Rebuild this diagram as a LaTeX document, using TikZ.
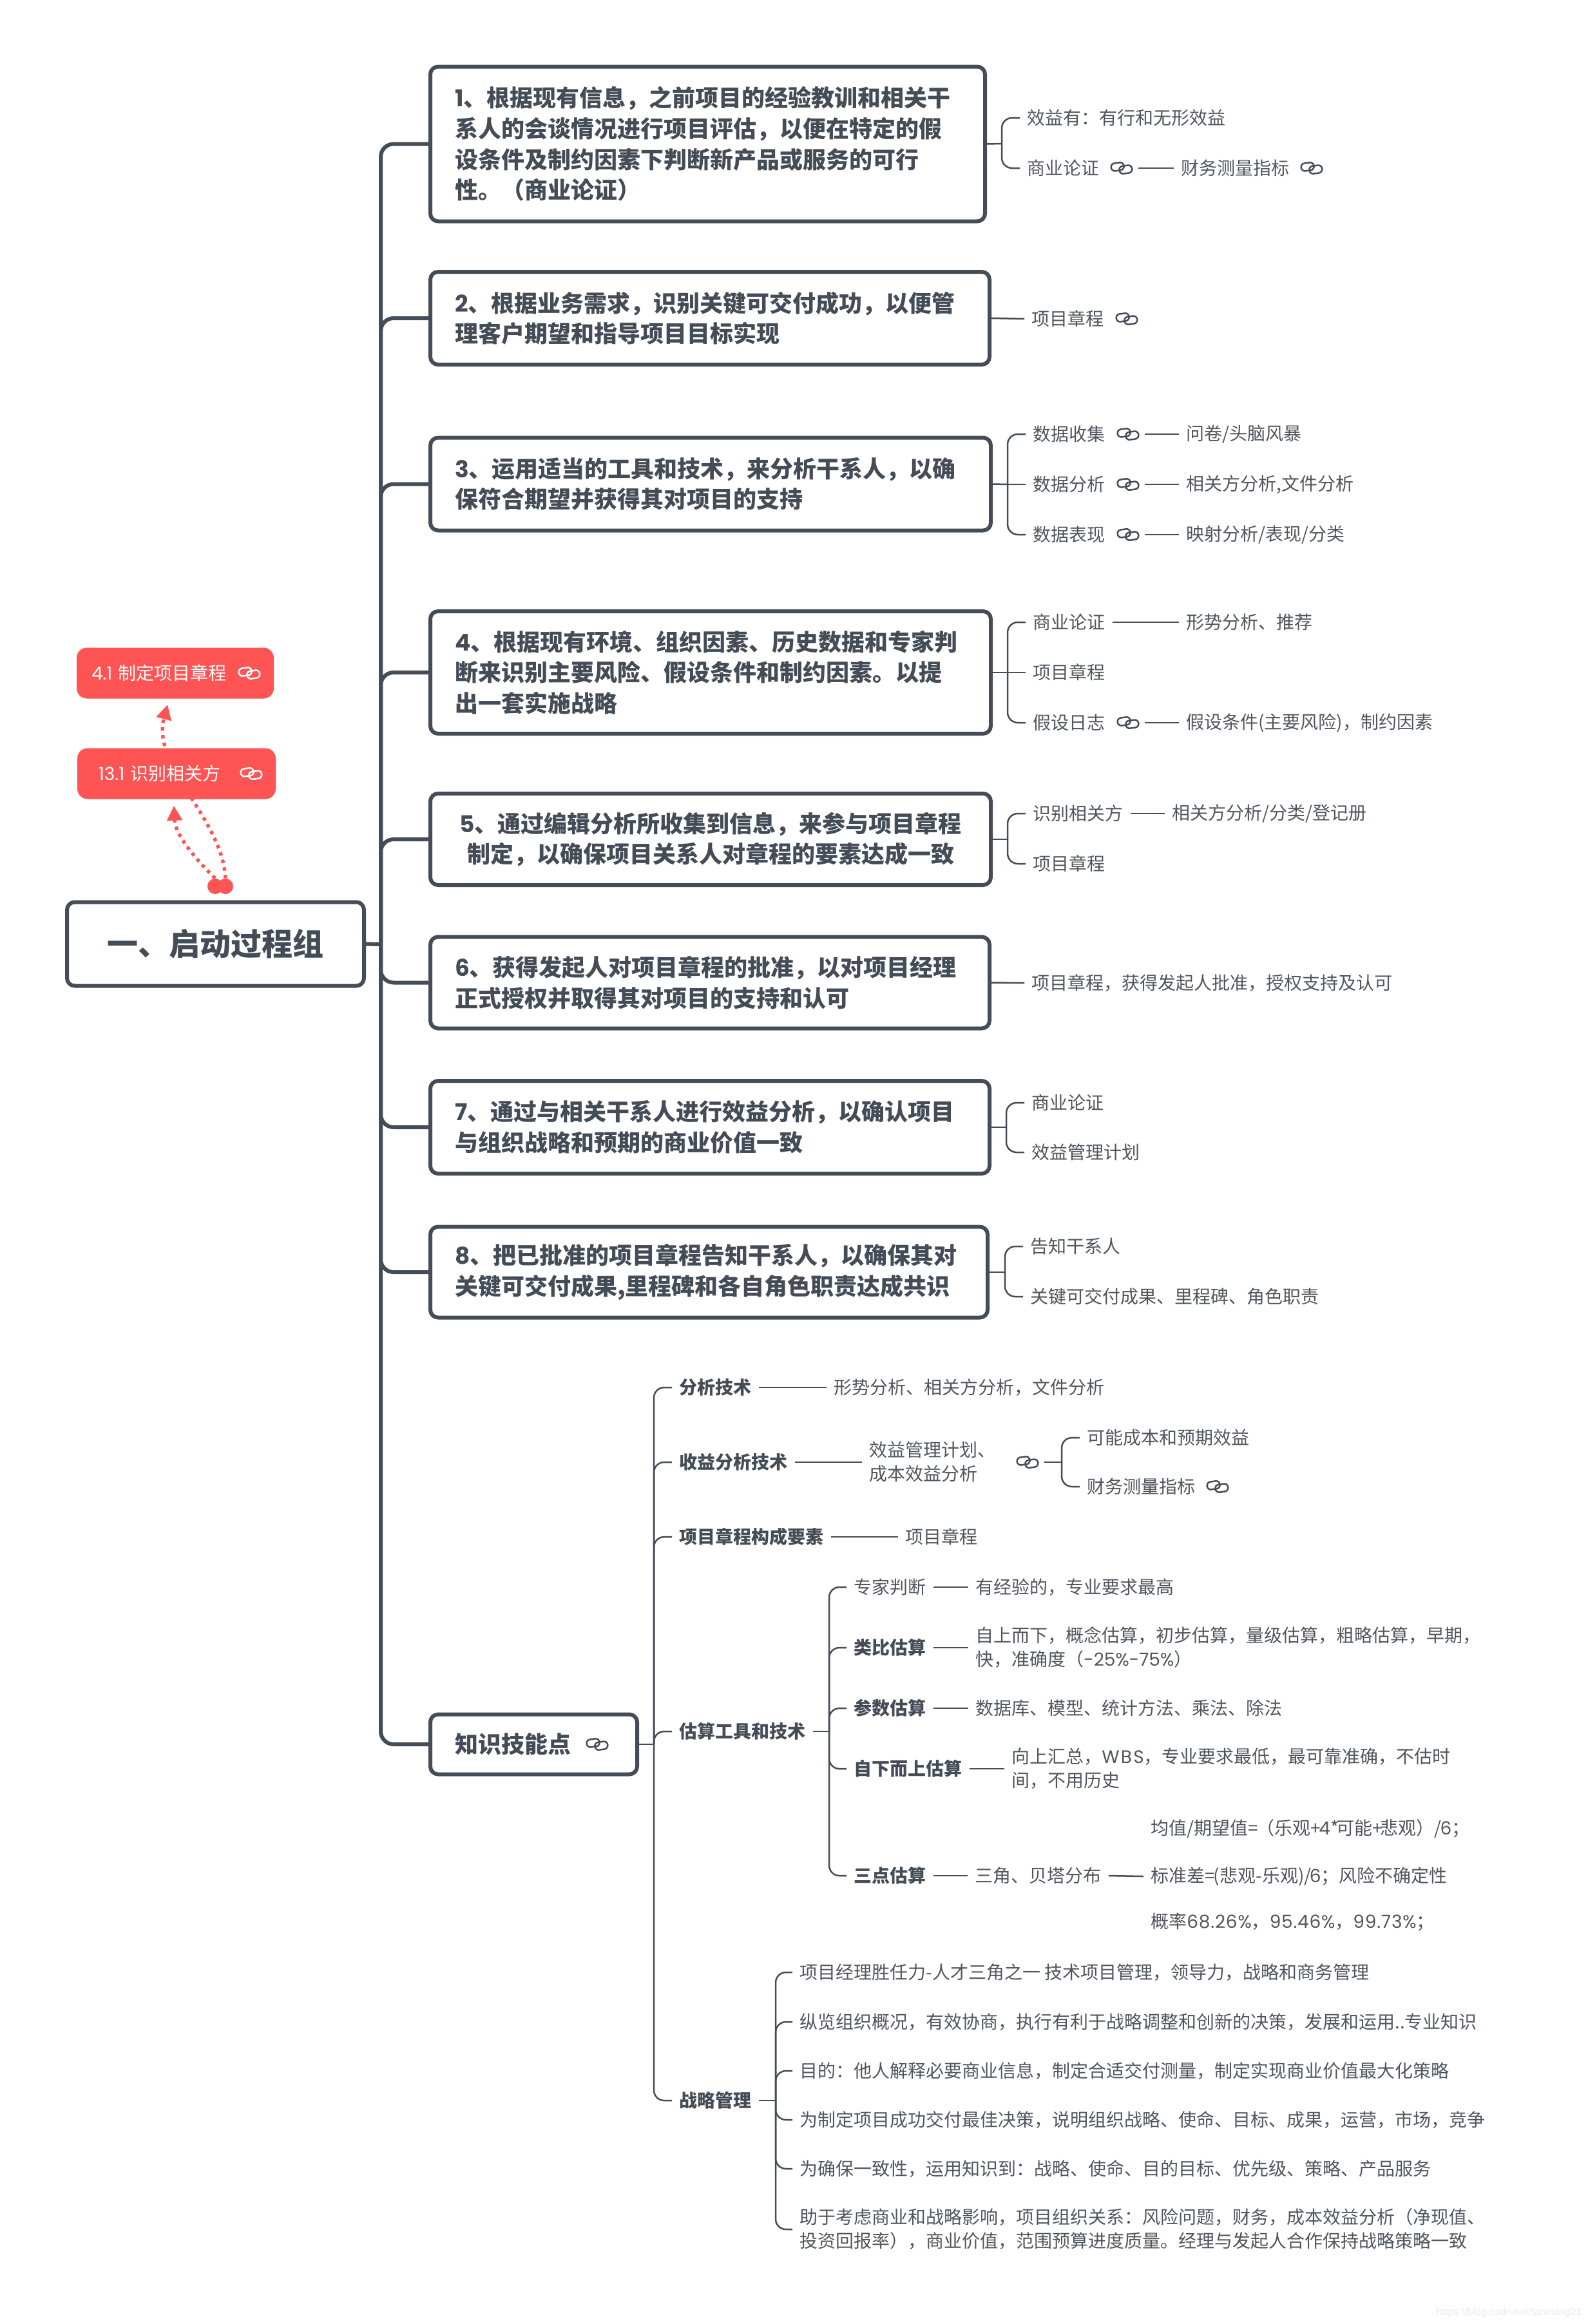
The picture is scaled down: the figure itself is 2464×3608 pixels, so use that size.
\documentclass[tikz,border=0pt]{standalone}
\usepackage{fontspec}
\usetikzlibrary{arrows.meta,backgrounds,calc}
\setmainfont{Noto Sans CJK SC}
\newfontfamily\latf{Poppins}
\newfontfamily\latw[LetterSpace=2.8]{Poppins}
\newfontfamily\latb[LetterSpace=8]{Poppins}
\newfontfamily\wmf{Liberation Sans}
\newcommand\lat[1]{{\latf #1}}
\newcommand\smallfont{\fontsize{14pt}{18.3pt}\selectfont}
\newcommand\bigfont{\fontsize{18pt}{23.8pt}\selectfont\bfseries}
\definecolor{ink}{HTML}{444D57}
\definecolor{soft}{HTML}{4F565E}
\definecolor{flow}{HTML}{FF5454}
\tikzset{
  x=0.5pt,y=-0.5pt,
  pics/linkicon/.style={code={
    \begin{scope}[rotate=8]
      \draw[#1,line width=1.25pt,rounded corners=2.9pt] (-16,-9) rectangle (4,3);
      \draw[#1,line width=1.25pt,rounded corners=2.9pt] (-4,-3) rectangle (16,9);
    \end{scope}}},
  iconbox/.style={inner sep=0pt,minimum width=26pt,minimum height=11pt},
  leaf/.style={font=\smallfont,text=soft,anchor=west,xshift=-5.5pt,inner xsep=5.5pt,inner ysep=0pt,align=left,
    execute at begin node={\leavevmode\vrule width 0pt height 12pt depth 2pt\relax}},
  lbold/.style={leaf,font=\smallfont\bfseries,text=ink},
  mainbox/.style={draw=ink,line width=3pt,rounded corners=6pt,fill=white,font=\bigfont,text=ink,inner xsep=0pt,inner ysep=0pt,align=left},
  redbox/.style={fill=flow,rounded corners=8pt,text=white,font=\smallfont,align=left,minimum height=39.5pt,inner ysep=0pt},
  trunk/.style={draw=ink,line width=3pt,rounded corners=10pt},
  twig/.style={draw=ink,line width=1.25pt,rounded corners=8pt},
  flowline/.style={draw=flow,line width=2.7pt,dash pattern=on 2.7pt off 3.3pt,-{Triangle[length=11.5pt,width=11.5pt]}},
}
\newcommand\mainnode[6]{%
  \pgfmathsetmacro\mnw{(#3-#2)*0.5}%
  \pgfmathsetmacro\mnc{(#2+#3)/2}%
  \node[mainbox,minimum width=\mnw pt,minimum height=(#5+3)*0.5pt,text width={(\mnw-38)*1pt}] (#1) at (\mnc,#4) {#6};}
\newcommand\iconat[3]{%
  \node[iconbox] (#1) at (#2) {};
  \pic at (#2) {linkicon=#3};}
\begin{document}
\begin{tikzpicture}
\useasboundingbox (0,0) rectangle (2464,3608);
\begin{pgfonlayer}{background}
\fill[white] (0,0) rectangle (2464,3608);
\end{pgfonlayer}

% root and main boxes
\node[mainbox,font=\fontsize{24pt}{28pt}\selectfont\bfseries,minimum width=230.5pt,minimum height=65pt,align=center] (root) at (334.5,1465.5) {一、启动过程组};
\coordinate (tr) at (591,1466);
\mainnode{b1}{668}{1529}{223.5}{237}{\lat{1}、根据现有信息，之前项目的经验教训和相关干\\系人的会谈情况进行项目评估，以便在特定的假\\设条件及制约因素下判断新产品或服务的可行\\性。（商业论证）}
\mainnode{b2}{668}{1536}{494}{141}{\lat{2}、根据业务需求，识别关键可交付成功，以便管\\理客户期望和指导项目目标实现}
\mainnode{b3}{668}{1538}{751.5}{141}{\lat{3}、运用适当的工具和技术，来分析干系人，以确\\保符合期望并获得其对项目的支持}
\mainnode{b4}{668}{1538}{1044}{187}{\lat{4}、根据现有环境、组织因素、历史数据和专家判\\断来识别主要风险、假设条件和制约因素。以提\\出一套实施战略}
\node[mainbox,minimum width=435pt,minimum height=71pt,text width=396pt,align=center] (b5) at (1103,1303) {\lat{5}、通过编辑分析所收集到信息，来参与项目章程\\制定，以确保项目关系人对章程的要素达成一致};
\mainnode{b6}{668}{1536}{1525.5}{139}{\lat{6}、获得发起人对项目章程的批准，以对项目经理\\正式授权并取得其对项目的支持和认可}
\mainnode{b7}{668}{1536}{1750}{141}{\lat{7}、通过与相关干系人进行效益分析，以确认项目\\与组织战略和预期的商业价值一致}
\mainnode{b8}{668}{1533}{1975}{138}{\lat{8}、把已批准的项目章程告知干系人，以确保其对\\关键可交付成果,里程碑和各自角色职责达成共识}
\mainnode{bk}{668}{989}{2708}{90}{知识技能点}
\iconat{ik}{927,2708}{ink}

\draw[trunk] (root.east) -- (tr);
\foreach \b in {b1,b2,b3,b4,b5,b6,b7,b8,bk} \draw[trunk] (tr) |- (\b.west);

% red boxes and flow links
\node[redbox,minimum width=153pt,inner xsep=11.5pt,text width=130pt] (r41) at (272,1045) {\lat{4.1} 制定项目章程};
\node[redbox,minimum width=154pt,inner xsep=16.5pt,text width=121pt] (r13) at (274,1201) {\lat{13.1} 识别相关方};
\iconat{ir41}{387,1045}{white}
\iconat{ir13}{390,1201}{white}
\node[circle,fill=flow,minimum size=12pt,inner sep=0pt] (c1) at (334,1376) {};
\node[circle,fill=flow,minimum size=12pt,inner sep=0pt] (c2) at (350,1376) {};
\begin{pgfonlayer}{background}
\draw[flowline] (c1.north) .. controls (300,1330) and (272,1295) .. ([shift={(-4,10)}]r13.south);
\draw[flowline] (c2.north) .. controls (345,1270) and (235,1190) .. ([shift={(-12,9)}]r41.south);
\end{pgfonlayer}

% box 1 leaves
\coordinate (j1) at (1555,223);
\node[leaf] (l1a) at (1594,183) {效益有：有行和无形效益};
\node[leaf] (l1b) at (1594,261) {商业论证};
\iconat{i1b}{1741,261}{ink}
\node[leaf] (l1c) at (1833,261) {财务测量指标};
\iconat{i1c}{2036,261}{ink}
\draw[twig] (b1.east) -- (j1);
\draw[twig] (j1) |- (l1a.west);
\draw[twig] (j1) |- (l1b.west);
\draw[twig] (i1b.east) -- (l1c.west);

% box 2
\node[leaf] (l2a) at (1601,495) {项目章程};
\iconat{i2a}{1749,495}{ink}
\draw[twig] (b2.east) -- (l2a.west);

% box 3
\coordinate (j3) at (1564,752);
\node[leaf] (l3a) at (1603,674) {数据收集};
\iconat{i3a}{1751,674}{ink}
\node[leaf] (l3b) at (1841,674) {问卷/头脑风暴};
\node[leaf] (l3c) at (1603,752) {数据分析};
\iconat{i3c}{1751,752}{ink}
\node[leaf] (l3d) at (1841,752) {相关方分析,文件分析};
\node[leaf] (l3e) at (1603,830) {数据表现};
\iconat{i3e}{1751,830}{ink}
\node[leaf] (l3f) at (1841,830) {映射分析/表现/分类};
\draw[twig] (b3.east) -- (j3);
\draw[twig] (j3) |- (l3a.west);
\draw[twig] (j3) -- (l3c.west);
\draw[twig] (j3) |- (l3e.west);
\draw[twig] (i3a.east) -- (l3b.west);
\draw[twig] (i3c.east) -- (l3d.west);
\draw[twig] (i3e.east) -- (l3f.west);

% box 4
\coordinate (j4) at (1564,1044);
\node[leaf] (l4a) at (1603,966) {商业论证};
\node[leaf] (l4b) at (1841,966) {形势分析、推荐};
\node[leaf] (l4c) at (1603,1044) {项目章程};
\node[leaf] (l4d) at (1603,1122) {假设日志};
\iconat{i4d}{1751,1122}{ink}
\node[leaf] (l4e) at (1841,1122) {假设条件(主要风险)，制约因素};
\draw[twig] (b4.east) -- (j4);
\draw[twig] (j4) |- (l4a.west);
\draw[twig] (j4) -- (l4c.west);
\draw[twig] (j4) |- (l4d.west);
\draw[twig] (l4a.east) -- (l4b.west);
\draw[twig] (i4d.east) -- (l4e.west);

% box 5
\coordinate (j5) at (1564,1303);
\node[leaf] (l5a) at (1603,1263) {识别相关方};
\node[leaf] (l5b) at (1819,1263) {相关方分析/分类/登记册};
\node[leaf] (l5c) at (1603,1341) {项目章程};
\draw[twig] (b5.east) -- (j5);
\draw[twig] (j5) |- (l5a.west);
\draw[twig] (j5) |- (l5c.west);
\draw[twig] (l5a.east) -- (l5b.west);

% box 6
\node[leaf] (l6a) at (1601,1526) {项目章程，获得发起人批准，授权支持及认可};
\draw[twig] (b6.east) -- (l6a.west);

% box 7
\coordinate (j7) at (1562,1750);
\node[leaf] (l7a) at (1601,1712) {商业论证};
\node[leaf] (l7b) at (1601,1789) {效益管理计划};
\draw[twig] (b7.east) -- (j7);
\draw[twig] (j7) |- (l7a.west);
\draw[twig] (j7) |- (l7b.west);

% box 8
\coordinate (j8) at (1560,1975);
\node[leaf] (l8a) at (1599,1935) {告知干系人};
\node[leaf] (l8b) at (1599,2013) {关键可交付成果、里程碑、角色职责};
\draw[twig] (b8.east) -- (j8);
\draw[twig] (j8) |- (l8a.west);
\draw[twig] (j8) |- (l8b.west);

% knowledge
\coordinate (jk) at (1015,2708);
\node[lbold] (k1) at (1054,2154) {分析技术};
\node[leaf] (k1a) at (1294,2154) {形势分析、相关方分析，文件分析};
\node[lbold] (k2) at (1054,2270) {收益分析技术};
\node[leaf] (k2a) at (1349,2270) {效益管理计划、\\成本效益分析};
\iconat{i2k}{1595,2270}{ink}
\coordinate (j2k) at (1648,2270);
\node[leaf] (k2b) at (1687,2232) {可能成本和预期效益};
\node[leaf] (k2c) at (1687,2308) {财务测量指标};
\iconat{i2c}{1890,2308}{ink}
\node[lbold] (k3) at (1054,2386) {项目章程构成要素};
\node[leaf] (k3a) at (1405,2386) {项目章程};
\node[lbold] (k4) at (1054,2688) {估算工具和技术};
\coordinate (j4k) at (1287,2688);
\node[leaf] (e1) at (1325,2464) {专家判断};
\node[leaf] (e1a) at (1514,2464) {有经验的，专业要求最高};
\node[lbold] (e2) at (1325,2558) {类比估算};
\node[leaf] (e2a) at (1514,2558) {自上而下，概念估算，初步估算，量级估算，粗略估算，早期，\\快，准确度（\lat{-25\%-75\%}）};
\node[lbold] (e3) at (1325,2652) {参数估算};
\node[leaf] (e3a) at (1514,2652) {数据库、模型、统计方法、乘法、除法};
\node[lbold] (e4) at (1325,2746) {自下而上估算};
\node[leaf] (e4a) at (1570,2746) {向上汇总，{\latb WBS}，专业要求最低，最可靠准确，不估时\\间，不用历史};
\node[lbold] (e5) at (1325,2912) {三点估算};
\node[leaf] (e5a) at (1513,2912) {三角、贝塔分布};
\node[leaf] (e5b) at (1786,2839) {均值/期望值=\kern-1pt（乐观+\kern-1.5pt\lat{4}*\kern-2pt可能+\kern-1.5pt悲观）/\kern-1pt\lat{6}；};
\node[leaf] (e5c) at (1786,2913) {标准差=\kern-1pt(悲观-乐观)/\kern-1.3pt\lat{6}；风险不确定性};
\node[leaf] (e5d) at (1786,2984) {概率{\latw 68.26\%}，{\latw 95.46\%}，{\latw 99.73\%}；};
\node[lbold] (k5) at (1054,3261) {战略管理};
\coordinate (j5k) at (1204,3261);
\node[leaf] (s1) at (1241,3062) {项目经理胜任力-人才三角之一 技术项目管理，领导力，战略和商务管理};
\node[leaf] (s2) at (1241,3139) {纵览组织概况，有效协商，执行有利于战略调整和创新的决策，发展和运用..专业知识};
\node[leaf] (s3) at (1241,3215) {目的：他人解释必要商业信息，制定合适交付测量，制定实现商业价值最大化策略};
\node[leaf] (s4) at (1241,3291) {为制定项目成功交付最佳决策，说明组织战略、使命、目标、成果，运营，市场，竞争};
\node[leaf] (s5) at (1241,3367) {为确保一致性，运用知识到：战略、使命、目的目标、优先级、策略、产品服务};
\node[leaf] (s6) at (1241,3461) {助于考虑商业和战略影响，项目组织关系：风险问题，财务，成本效益分析（净现值、\\投资回报率），商业价值，范围预算进度质量。经理与发起人合作保持战略策略一致};

\draw[twig] (bk.east) -- (jk);
\foreach \n in {k1,k2,k3,k4,k5} \draw[twig] (jk) |- (\n.west);
\draw[twig] (k1.east) -- (k1a.west);
\draw[twig] (k2.east) -- (k2a.west);
\draw[twig] (i2k.east) -- (j2k);
\draw[twig] (j2k) |- (k2b.west);
\draw[twig] (j2k) |- (k2c.west);
\draw[twig] (k3.east) -- (k3a.west);
\draw[twig] (k4.east) -- (j4k);
\foreach \n in {e1,e2,e3,e4,e5} \draw[twig] (j4k) |- (\n.west);
\draw[twig] (e1.east) -- (e1a.west);
\draw[twig] (e2.east) -- (e2a.west);
\draw[twig] (e3.east) -- (e3a.west);
\draw[twig] (e4.east) -- (e4a.west);
\draw[twig] (e5.east) -- (e5a.west);
\draw[twig] (e5a.east) -- (e5c.west);
\draw[twig] (k5.east) -- (j5k);
\foreach \n in {s1,s2,s3,s4,s5,s6} \draw[twig] (j5k) |- (\n.west);

% watermark
\node[font=\wmf\fontsize{8pt}{10pt}\selectfont,text=black!8,anchor=east,inner sep=0pt] (wm) at (2456,3590) {https://blog.csdn.net/tanxiang21};
\end{tikzpicture}
\end{document}
